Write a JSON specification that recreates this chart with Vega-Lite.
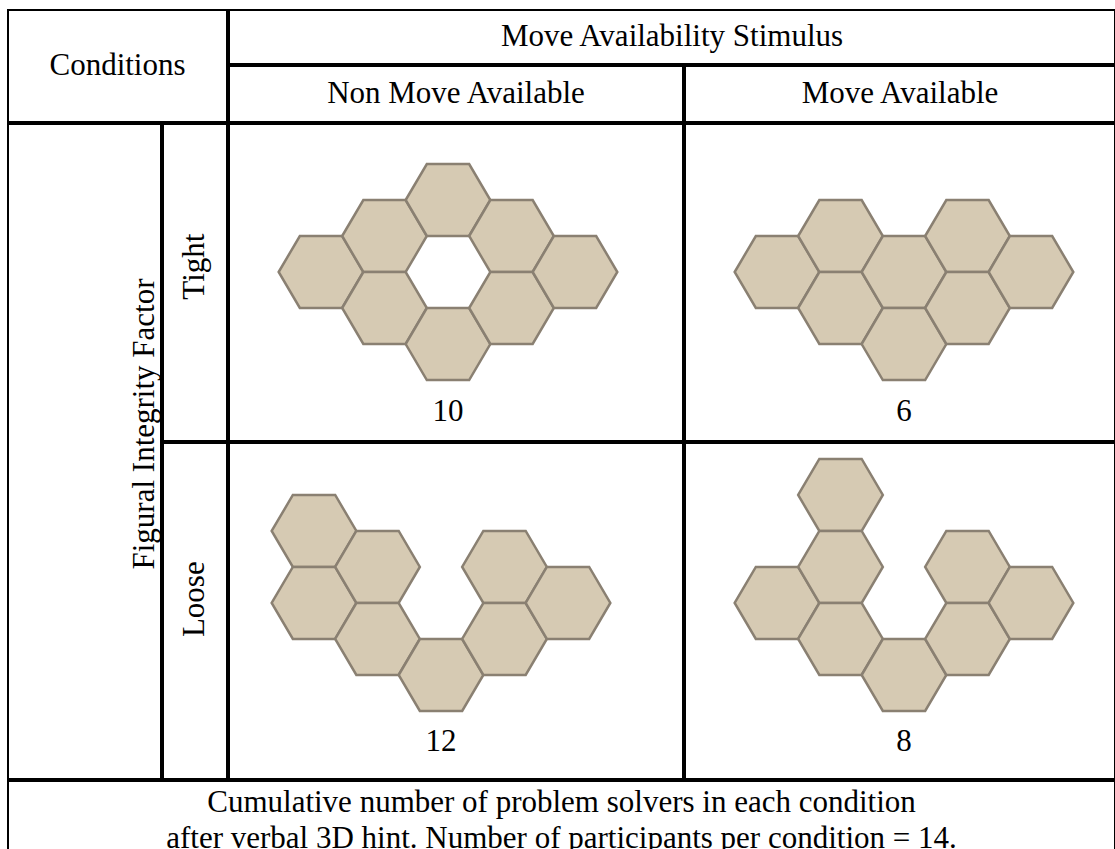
{
  "$schema": "https://vega.github.io/schema/vega-lite/v6.json",
  "background": "white",
  "padding": {"left": 7, "top": 9, "right": 0, "bottom": 0},
  "spacing": 0,
  "config": {
    "view": {"stroke": "#000000", "strokeWidth": 2},
    "text": {"font": "Liberation Serif", "fontSize": 31, "fill": "#000000"}
  },
  "datasets": {
    "hexagons": [
      {"stimulus": "Non Move Available", "integrity": "Tight", "hexCol": 0, "hexRow": 0},
      {"stimulus": "Non Move Available", "integrity": "Tight", "hexCol": 1, "hexRow": -1},
      {"stimulus": "Non Move Available", "integrity": "Tight", "hexCol": 1, "hexRow": 1},
      {"stimulus": "Non Move Available", "integrity": "Tight", "hexCol": 2, "hexRow": -2},
      {"stimulus": "Non Move Available", "integrity": "Tight", "hexCol": 2, "hexRow": 2},
      {"stimulus": "Non Move Available", "integrity": "Tight", "hexCol": 3, "hexRow": -1},
      {"stimulus": "Non Move Available", "integrity": "Tight", "hexCol": 3, "hexRow": 1},
      {"stimulus": "Non Move Available", "integrity": "Tight", "hexCol": 4, "hexRow": 0},
      {"stimulus": "Move Available", "integrity": "Tight", "hexCol": 0, "hexRow": 0},
      {"stimulus": "Move Available", "integrity": "Tight", "hexCol": 1, "hexRow": -1},
      {"stimulus": "Move Available", "integrity": "Tight", "hexCol": 1, "hexRow": 1},
      {"stimulus": "Move Available", "integrity": "Tight", "hexCol": 2, "hexRow": 0},
      {"stimulus": "Move Available", "integrity": "Tight", "hexCol": 2, "hexRow": 2},
      {"stimulus": "Move Available", "integrity": "Tight", "hexCol": 3, "hexRow": -1},
      {"stimulus": "Move Available", "integrity": "Tight", "hexCol": 3, "hexRow": 1},
      {"stimulus": "Move Available", "integrity": "Tight", "hexCol": 4, "hexRow": 0},
      {"stimulus": "Non Move Available", "integrity": "Loose", "hexCol": 0, "hexRow": 0},
      {"stimulus": "Non Move Available", "integrity": "Loose", "hexCol": 0, "hexRow": 2},
      {"stimulus": "Non Move Available", "integrity": "Loose", "hexCol": 1, "hexRow": 1},
      {"stimulus": "Non Move Available", "integrity": "Loose", "hexCol": 1, "hexRow": 3},
      {"stimulus": "Non Move Available", "integrity": "Loose", "hexCol": 2, "hexRow": 4},
      {"stimulus": "Non Move Available", "integrity": "Loose", "hexCol": 3, "hexRow": 1},
      {"stimulus": "Non Move Available", "integrity": "Loose", "hexCol": 3, "hexRow": 3},
      {"stimulus": "Non Move Available", "integrity": "Loose", "hexCol": 4, "hexRow": 2},
      {"stimulus": "Move Available", "integrity": "Loose", "hexCol": 0, "hexRow": 2},
      {"stimulus": "Move Available", "integrity": "Loose", "hexCol": 1, "hexRow": -1},
      {"stimulus": "Move Available", "integrity": "Loose", "hexCol": 1, "hexRow": 1},
      {"stimulus": "Move Available", "integrity": "Loose", "hexCol": 1, "hexRow": 3},
      {"stimulus": "Move Available", "integrity": "Loose", "hexCol": 2, "hexRow": 4},
      {"stimulus": "Move Available", "integrity": "Loose", "hexCol": 3, "hexRow": 1},
      {"stimulus": "Move Available", "integrity": "Loose", "hexCol": 3, "hexRow": 3},
      {"stimulus": "Move Available", "integrity": "Loose", "hexCol": 4, "hexRow": 2}
    ],
    "solvers": [
      {"stimulus": "Non Move Available", "integrity": "Tight", "solvers": 10},
      {"stimulus": "Move Available", "integrity": "Tight", "solvers": 6},
      {"stimulus": "Non Move Available", "integrity": "Loose", "solvers": 12},
      {"stimulus": "Move Available", "integrity": "Loose", "solvers": 8}
    ]
  },
  "vconcat": [
    {
      "spacing": 0,
      "hconcat": [
        {
          "width": 219, "height": 112,
          "data": {"values": [{"label": "Conditions"}]},
          "mark": {"type": "text"},
          "encoding": {
            "text": {"field": "label"},
            "x": {"datum": 0, "type": "quantitative", "scale": {"domain": [-1, 1], "nice": false}, "axis": null},
            "y": {"datum": 0, "type": "quantitative", "scale": {"domain": [-1, 1], "nice": false}, "axis": null}
          }
        },
        {
          "spacing": 0,
          "vconcat": [
            {
              "width": 886, "height": 54,
              "data": {"values": [{"label": "Move Availability Stimulus"}]},
              "mark": {"type": "text"},
              "encoding": {
                "text": {"field": "label"},
                "x": {"datum": 0, "type": "quantitative", "scale": {"domain": [-1, 1], "nice": false}, "axis": null},
                "y": {"datum": 0, "type": "quantitative", "scale": {"domain": [-1, 1], "nice": false}, "axis": null}
              }
            },
            {
              "spacing": 0,
              "hconcat": [
                {
                  "width": 454, "height": 56,
                  "data": {"values": [{"label": "Non Move Available"}]},
                  "mark": {"type": "text"},
                  "encoding": {
                    "text": {"field": "label"},
                    "x": {"datum": 0, "type": "quantitative", "scale": {"domain": [-1, 1], "nice": false}, "axis": null},
                    "y": {"datum": 0, "type": "quantitative", "scale": {"domain": [-1, 1], "nice": false}, "axis": null}
                  }
                },
                {
                  "width": 430, "height": 56,
                  "data": {"values": [{"label": "Move Available"}]},
                  "mark": {"type": "text"},
                  "encoding": {
                    "text": {"field": "label"},
                    "x": {"datum": 0, "type": "quantitative", "scale": {"domain": [-1, 1], "nice": false}, "axis": null},
                    "y": {"datum": 0, "type": "quantitative", "scale": {"domain": [-1, 1], "nice": false}, "axis": null}
                  }
                }
              ]
            }
          ]
        }
      ]
    },
    {
      "spacing": 0,
      "hconcat": [
        {
          "width": 153, "height": 655,
          "data": {"values": [{"label": "Figural Integrity Factor"}]},
          "mark": {"type": "text", "angle": 270},
          "encoding": {
            "text": {"field": "label"},
            "x": {"datum": 0.79, "type": "quantitative", "scale": {"domain": [-1, 1], "nice": false}, "axis": null},
            "y": {"datum": 0.084, "type": "quantitative", "scale": {"domain": [-1, 1], "nice": false}, "axis": null}
          }
        },
        {
          "spacing": 0,
          "vconcat": [
            {
              "spacing": 0,
              "hconcat": [
                {
                  "width": 64, "height": 317,
                  "data": {"values": [{"label": "Tight"}]},
                  "mark": {"type": "text", "angle": 270},
                  "encoding": {
                    "text": {"field": "label"},
                    "x": {"datum": 0, "type": "quantitative", "scale": {"domain": [-1, 1], "nice": false}, "axis": null},
                    "y": {"datum": 0.1, "type": "quantitative", "scale": {"domain": [-1, 1], "nice": false}, "axis": null}
                  }
                },
                {
                  "width": 454, "height": 317,
                  "layer": [
                    {
                      "data": {"name": "hexagons"},
                      "transform": [{"filter": "datum.stimulus === 'Non Move Available' && datum.integrity === 'Tight'"}],
                      "mark": {"type": "point", "shape": "M-1,0L-0.5,-0.8504L0.5,-0.8504L1,0L0.5,0.8504L-0.5,0.8504Z", "size": 7168, "filled": true, "fill": "#d6cab3", "stroke": "#8a8072", "strokeWidth": 2.5, "opacity": 1},
                      "encoding": {
                        "x": {"field": "hexCol", "type": "quantitative", "scale": {"domain": [-1.449, 5.701], "nice": false, "zero": false}, "axis": null},
                        "y": {"field": "hexRow", "type": "quantitative", "scale": {"domain": [-4.111, 4.694], "nice": false, "zero": false, "reverse": true}, "axis": null}
                      }
                    },
                    {
                      "data": {"name": "solvers"},
                      "transform": [{"filter": "datum.stimulus === 'Non Move Available' && datum.integrity === 'Tight'"}],
                      "mark": {"type": "text"},
                      "encoding": {
                        "text": {"field": "solvers"},
                        "x": {"datum": 2, "type": "quantitative"},
                        "y": {"datum": 3.89, "type": "quantitative"}
                      }
                    }
                  ]
                },
                {
                  "width": 430, "height": 317,
                  "layer": [
                    {
                      "data": {"name": "hexagons"},
                      "transform": [{"filter": "datum.stimulus === 'Move Available' && datum.integrity === 'Tight'"}],
                      "mark": {"type": "point", "shape": "M-1,0L-0.5,-0.8504L0.5,-0.8504L1,0L0.5,0.8504L-0.5,0.8504Z", "size": 7168, "filled": true, "fill": "#d6cab3", "stroke": "#8a8072", "strokeWidth": 2.5, "opacity": 1},
                      "encoding": {
                        "x": {"field": "hexCol", "type": "quantitative", "scale": {"domain": [-1.449, 5.323], "nice": false, "zero": false}, "axis": null},
                        "y": {"field": "hexRow", "type": "quantitative", "scale": {"domain": [-4.111, 4.694], "nice": false, "zero": false, "reverse": true}, "axis": null}
                      }
                    },
                    {
                      "data": {"name": "solvers"},
                      "transform": [{"filter": "datum.stimulus === 'Move Available' && datum.integrity === 'Tight'"}],
                      "mark": {"type": "text"},
                      "encoding": {
                        "text": {"field": "solvers"},
                        "x": {"datum": 2, "type": "quantitative"},
                        "y": {"datum": 3.89, "type": "quantitative"}
                      }
                    }
                  ]
                }
              ]
            },
            {
              "spacing": 0,
              "hconcat": [
                {
                  "width": 64, "height": 336,
                  "data": {"values": [{"label": "Loose"}]},
                  "mark": {"type": "text", "angle": 270},
                  "encoding": {
                    "text": {"field": "label"},
                    "x": {"datum": 0, "type": "quantitative", "scale": {"domain": [-1, 1], "nice": false}, "axis": null},
                    "y": {"datum": 0.07, "type": "quantitative", "scale": {"domain": [-1, 1], "nice": false}, "axis": null}
                  }
                },
                {
                  "width": 454, "height": 336,
                  "layer": [
                    {
                      "data": {"name": "hexagons"},
                      "transform": [{"filter": "datum.stimulus === 'Non Move Available' && datum.integrity === 'Loose'"}],
                      "mark": {"type": "point", "shape": "M-1,0L-0.5,-0.8504L0.5,-0.8504L1,0L0.5,0.8504L-0.5,0.8504Z", "size": 7168, "filled": true, "fill": "#d6cab3", "stroke": "#8a8072", "strokeWidth": 2.5, "opacity": 1},
                      "encoding": {
                        "x": {"field": "hexCol", "type": "quantitative", "scale": {"domain": [-1.339, 5.811], "nice": false, "zero": false}, "axis": null},
                        "y": {"field": "hexRow", "type": "quantitative", "scale": {"domain": [-2.444, 6.889], "nice": false, "zero": false, "reverse": true}, "axis": null}
                      }
                    },
                    {
                      "data": {"name": "solvers"},
                      "transform": [{"filter": "datum.stimulus === 'Non Move Available' && datum.integrity === 'Loose'"}],
                      "mark": {"type": "text"},
                      "encoding": {
                        "text": {"field": "solvers"},
                        "x": {"datum": 2, "type": "quantitative"},
                        "y": {"datum": 5.85, "type": "quantitative"}
                      }
                    }
                  ]
                },
                {
                  "width": 430, "height": 336,
                  "layer": [
                    {
                      "data": {"name": "hexagons"},
                      "transform": [{"filter": "datum.stimulus === 'Move Available' && datum.integrity === 'Loose'"}],
                      "mark": {"type": "point", "shape": "M-1,0L-0.5,-0.8504L0.5,-0.8504L1,0L0.5,0.8504L-0.5,0.8504Z", "size": 7168, "filled": true, "fill": "#d6cab3", "stroke": "#8a8072", "strokeWidth": 2.5, "opacity": 1},
                      "encoding": {
                        "x": {"field": "hexCol", "type": "quantitative", "scale": {"domain": [-1.449, 5.323], "nice": false, "zero": false}, "axis": null},
                        "y": {"field": "hexRow", "type": "quantitative", "scale": {"domain": [-2.444, 6.889], "nice": false, "zero": false, "reverse": true}, "axis": null}
                      }
                    },
                    {
                      "data": {"name": "solvers"},
                      "transform": [{"filter": "datum.stimulus === 'Move Available' && datum.integrity === 'Loose'"}],
                      "mark": {"type": "text"},
                      "encoding": {
                        "text": {"field": "solvers"},
                        "x": {"datum": 2, "type": "quantitative"},
                        "y": {"datum": 5.85, "type": "quantitative"}
                      }
                    }
                  ]
                }
              ]
            }
          ]
        }
      ]
    },
    {
      "width": 1107, "height": 80,
      "data": {"values": [{"label": "Cumulative number of problem solvers in each condition\nafter verbal 3D hint. Number of participants per condition = 14."}]},
      "mark": {"type": "text", "lineBreak": "\n", "lineHeight": 36},
      "encoding": {
        "text": {"field": "label"},
        "x": {"datum": 0, "type": "quantitative", "scale": {"domain": [-1, 1], "nice": false}, "axis": null},
        "y": {"datum": 0.45, "type": "quantitative", "scale": {"domain": [-1, 1], "nice": false}, "axis": null}
      }
    }
  ]
}
